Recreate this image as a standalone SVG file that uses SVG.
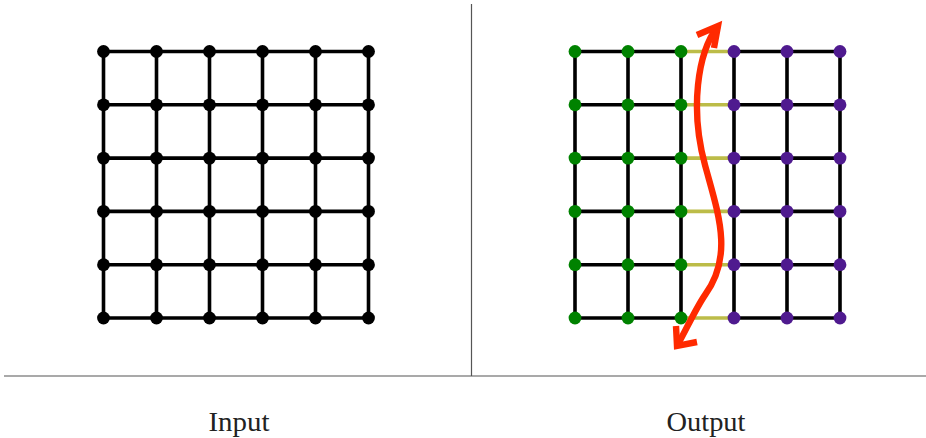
<svg xmlns="http://www.w3.org/2000/svg" width="926" height="438" viewBox="0 0 926 438">
<style>
.e{stroke:#000;stroke-width:3.6;fill:none;stroke-linecap:butt}
.b{stroke:#bcbc48;stroke-width:3.6;fill:none}
.k{fill:#000}
.g{fill:#008200}
.p{fill:#4f1a8f}
.arr{stroke:#ff2a00;stroke-width:6.4;fill:none;stroke-linecap:butt;stroke-linejoin:miter}
.frame{stroke:#555;stroke-width:1.2;fill:none}
.lbl{font-family:"Liberation Serif","DejaVu Serif",serif;font-size:27px;fill:#222;text-anchor:middle}
</style>
<rect width="926" height="438" fill="#fff"/>
<g id="frame">
<line class="frame" x1="471.5" y1="4" x2="471.5" y2="376"/>
<line class="frame" x1="4" y1="376" x2="926" y2="376"/>
</g>
<g id="connectors">
<path class="e" d="M103.5 51.5H368.5M103.5 104.8H368.5M103.5 158.1H368.5M103.5 211.4H368.5M103.5 264.7H368.5M103.5 318H368.5"/>
<path class="e" d="M103.5 51.5V318M156.5 51.5V318M209.5 51.5V318M262.5 51.5V318M315.5 51.5V318M368.5 51.5V318"/>
<path class="e" d="M575 51.5H681M575 104.8H681M575 158.1H681M575 211.4H681M575 264.7H681M575 318H681"/>
<path class="e" d="M734 51.5H840M734 104.8H840M734 158.1H840M734 211.4H840M734 264.7H840M734 318H840"/>
<path class="b" d="M681 51.5H734M681 104.8H734M681 158.1H734M681 211.4H734M681 264.7H734M681 318H734"/>
<path class="e" d="M575 51.5V318M628 51.5V318M681 51.5V318M734 51.5V318M787 51.5V318M840 51.5V318"/>
</g>
<g id="input-nodes">
<g id="in-0-0"><circle class="k" cx="103.5" cy="51.5" r="6.4"/></g>
<g id="in-1-0"><circle class="k" cx="156.5" cy="51.5" r="6.4"/></g>
<g id="in-2-0"><circle class="k" cx="209.5" cy="51.5" r="6.4"/></g>
<g id="in-3-0"><circle class="k" cx="262.5" cy="51.5" r="6.4"/></g>
<g id="in-4-0"><circle class="k" cx="315.5" cy="51.5" r="6.4"/></g>
<g id="in-5-0"><circle class="k" cx="368.5" cy="51.5" r="6.4"/></g>
<g id="in-0-1"><circle class="k" cx="103.5" cy="104.8" r="6.4"/></g>
<g id="in-1-1"><circle class="k" cx="156.5" cy="104.8" r="6.4"/></g>
<g id="in-2-1"><circle class="k" cx="209.5" cy="104.8" r="6.4"/></g>
<g id="in-3-1"><circle class="k" cx="262.5" cy="104.8" r="6.4"/></g>
<g id="in-4-1"><circle class="k" cx="315.5" cy="104.8" r="6.4"/></g>
<g id="in-5-1"><circle class="k" cx="368.5" cy="104.8" r="6.4"/></g>
<g id="in-0-2"><circle class="k" cx="103.5" cy="158.1" r="6.4"/></g>
<g id="in-1-2"><circle class="k" cx="156.5" cy="158.1" r="6.4"/></g>
<g id="in-2-2"><circle class="k" cx="209.5" cy="158.1" r="6.4"/></g>
<g id="in-3-2"><circle class="k" cx="262.5" cy="158.1" r="6.4"/></g>
<g id="in-4-2"><circle class="k" cx="315.5" cy="158.1" r="6.4"/></g>
<g id="in-5-2"><circle class="k" cx="368.5" cy="158.1" r="6.4"/></g>
<g id="in-0-3"><circle class="k" cx="103.5" cy="211.4" r="6.4"/></g>
<g id="in-1-3"><circle class="k" cx="156.5" cy="211.4" r="6.4"/></g>
<g id="in-2-3"><circle class="k" cx="209.5" cy="211.4" r="6.4"/></g>
<g id="in-3-3"><circle class="k" cx="262.5" cy="211.4" r="6.4"/></g>
<g id="in-4-3"><circle class="k" cx="315.5" cy="211.4" r="6.4"/></g>
<g id="in-5-3"><circle class="k" cx="368.5" cy="211.4" r="6.4"/></g>
<g id="in-0-4"><circle class="k" cx="103.5" cy="264.7" r="6.4"/></g>
<g id="in-1-4"><circle class="k" cx="156.5" cy="264.7" r="6.4"/></g>
<g id="in-2-4"><circle class="k" cx="209.5" cy="264.7" r="6.4"/></g>
<g id="in-3-4"><circle class="k" cx="262.5" cy="264.7" r="6.4"/></g>
<g id="in-4-4"><circle class="k" cx="315.5" cy="264.7" r="6.4"/></g>
<g id="in-5-4"><circle class="k" cx="368.5" cy="264.7" r="6.4"/></g>
<g id="in-0-5"><circle class="k" cx="103.5" cy="318" r="6.4"/></g>
<g id="in-1-5"><circle class="k" cx="156.5" cy="318" r="6.4"/></g>
<g id="in-2-5"><circle class="k" cx="209.5" cy="318" r="6.4"/></g>
<g id="in-3-5"><circle class="k" cx="262.5" cy="318" r="6.4"/></g>
<g id="in-4-5"><circle class="k" cx="315.5" cy="318" r="6.4"/></g>
<g id="in-5-5"><circle class="k" cx="368.5" cy="318" r="6.4"/></g>
</g>
<g id="output-nodes">
<g id="out-0-0"><circle class="g" cx="575" cy="51.5" r="6.4"/></g>
<g id="out-1-0"><circle class="g" cx="628" cy="51.5" r="6.4"/></g>
<g id="out-2-0"><circle class="g" cx="681" cy="51.5" r="6.4"/></g>
<g id="out-3-0"><circle class="p" cx="734" cy="51.5" r="6.4"/></g>
<g id="out-4-0"><circle class="p" cx="787" cy="51.5" r="6.4"/></g>
<g id="out-5-0"><circle class="p" cx="840" cy="51.5" r="6.4"/></g>
<g id="out-0-1"><circle class="g" cx="575" cy="104.8" r="6.4"/></g>
<g id="out-1-1"><circle class="g" cx="628" cy="104.8" r="6.4"/></g>
<g id="out-2-1"><circle class="g" cx="681" cy="104.8" r="6.4"/></g>
<g id="out-3-1"><circle class="p" cx="734" cy="104.8" r="6.4"/></g>
<g id="out-4-1"><circle class="p" cx="787" cy="104.8" r="6.4"/></g>
<g id="out-5-1"><circle class="p" cx="840" cy="104.8" r="6.4"/></g>
<g id="out-0-2"><circle class="g" cx="575" cy="158.1" r="6.4"/></g>
<g id="out-1-2"><circle class="g" cx="628" cy="158.1" r="6.4"/></g>
<g id="out-2-2"><circle class="g" cx="681" cy="158.1" r="6.4"/></g>
<g id="out-3-2"><circle class="p" cx="734" cy="158.1" r="6.4"/></g>
<g id="out-4-2"><circle class="p" cx="787" cy="158.1" r="6.4"/></g>
<g id="out-5-2"><circle class="p" cx="840" cy="158.1" r="6.4"/></g>
<g id="out-0-3"><circle class="g" cx="575" cy="211.4" r="6.4"/></g>
<g id="out-1-3"><circle class="g" cx="628" cy="211.4" r="6.4"/></g>
<g id="out-2-3"><circle class="g" cx="681" cy="211.4" r="6.4"/></g>
<g id="out-3-3"><circle class="p" cx="734" cy="211.4" r="6.4"/></g>
<g id="out-4-3"><circle class="p" cx="787" cy="211.4" r="6.4"/></g>
<g id="out-5-3"><circle class="p" cx="840" cy="211.4" r="6.4"/></g>
<g id="out-0-4"><circle class="g" cx="575" cy="264.7" r="6.4"/></g>
<g id="out-1-4"><circle class="g" cx="628" cy="264.7" r="6.4"/></g>
<g id="out-2-4"><circle class="g" cx="681" cy="264.7" r="6.4"/></g>
<g id="out-3-4"><circle class="p" cx="734" cy="264.7" r="6.4"/></g>
<g id="out-4-4"><circle class="p" cx="787" cy="264.7" r="6.4"/></g>
<g id="out-5-4"><circle class="p" cx="840" cy="264.7" r="6.4"/></g>
<g id="out-0-5"><circle class="g" cx="575" cy="318" r="6.4"/></g>
<g id="out-1-5"><circle class="g" cx="628" cy="318" r="6.4"/></g>
<g id="out-2-5"><circle class="g" cx="681" cy="318" r="6.4"/></g>
<g id="out-3-5"><circle class="p" cx="734" cy="318" r="6.4"/></g>
<g id="out-4-5"><circle class="p" cx="787" cy="318" r="6.4"/></g>
<g id="out-5-5"><circle class="p" cx="840" cy="318" r="6.4"/></g>
</g>
<g id="cut-arrow">
<path class="arr" d="M718 26C697 53 690 110 705 165C718 213 734 255 705 295C696 308 686 330 677 346"/>
<polyline class="arr" points="697,35 718,26 714,48"/>
<polyline class="arr" points="676,326 677,346 697,342"/>
</g>
<g id="labels">
<text class="lbl" x="239" y="430.7" textLength="61" lengthAdjust="spacingAndGlyphs">Input</text>
<text class="lbl" x="706" y="430.7" textLength="79" lengthAdjust="spacingAndGlyphs">Output</text>
</g>
</svg>
